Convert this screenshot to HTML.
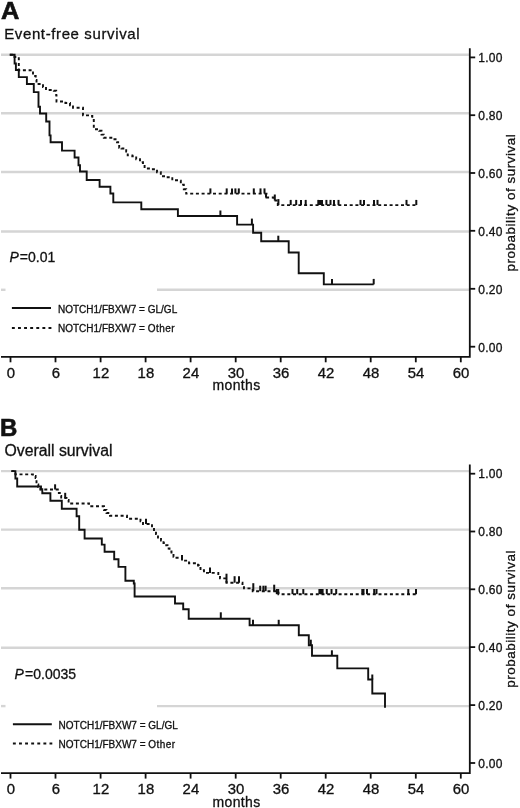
<!DOCTYPE html>
<html><head><meta charset="utf-8"><style>
html,body{margin:0;padding:0;background:#fff;}
body{width:520px;height:808px;overflow:hidden;}
svg{display:block;will-change:transform;}
text{font-family:"Liberation Sans",sans-serif;fill:#111;stroke:#111;stroke-width:0.3px;}
</style></head><body>
<svg width="520" height="808" viewBox="0 0 520 808">
<rect width="520" height="808" fill="#fff"/>
<g stroke="#d5d5d5" stroke-width="2.4">
<line x1="1" y1="54.8" x2="469" y2="54.8"/>
<line x1="1" y1="113.3" x2="469" y2="113.3"/>
<line x1="1" y1="172.0" x2="469" y2="172.0"/>
<line x1="1" y1="231.5" x2="469" y2="231.5"/>
<line x1="1" y1="289.8" x2="5.5" y2="289.8"/>
<line x1="157" y1="289.8" x2="469" y2="289.8"/>
</g>
<g stroke="#111" stroke-width="1.8" fill="none">
<path d="M1 356.8 H469.8 V48.2"/>
<line x1="469.8" y1="57.4" x2="475.2" y2="57.4"/>
<line x1="469.8" y1="115.2" x2="475.2" y2="115.2"/>
<line x1="469.8" y1="173.0" x2="475.2" y2="173.0"/>
<line x1="469.8" y1="230.8" x2="475.2" y2="230.8"/>
<line x1="469.8" y1="288.8" x2="475.2" y2="288.8"/>
<line x1="469.8" y1="346.7" x2="475.2" y2="346.7"/>
<line x1="10.5" y1="356.8" x2="10.5" y2="362.3"/>
<line x1="55.5" y1="356.8" x2="55.5" y2="362.3"/>
<line x1="100.6" y1="356.8" x2="100.6" y2="362.3"/>
<line x1="145.6" y1="356.8" x2="145.6" y2="362.3"/>
<line x1="190.6" y1="356.8" x2="190.6" y2="362.3"/>
<line x1="235.7" y1="356.8" x2="235.7" y2="362.3"/>
<line x1="280.7" y1="356.8" x2="280.7" y2="362.3"/>
<line x1="325.7" y1="356.8" x2="325.7" y2="362.3"/>
<line x1="370.7" y1="356.8" x2="370.7" y2="362.3"/>
<line x1="415.8" y1="356.8" x2="415.8" y2="362.3"/>
<line x1="460.8" y1="356.8" x2="460.8" y2="362.3"/>
</g>
<g font-size="12" letter-spacing="0.3">
<text x="478.2" y="61.9">1.00</text>
<text x="478.2" y="119.8">0.80</text>
<text x="478.2" y="177.8">0.60</text>
<text x="478.2" y="235.8">0.40</text>
<text x="478.2" y="293.7">0.20</text>
<text x="478.2" y="351.6">0.00</text>
</g>
<g font-size="13.8" text-anchor="middle">
<text transform="translate(10.8,377.8) scale(1.08,1)">0</text>
<text transform="translate(55.8,377.8) scale(1.08,1)">6</text>
<text transform="translate(100.9,377.8) scale(1.08,1)">12</text>
<text transform="translate(145.9,377.8) scale(1.08,1)">18</text>
<text transform="translate(190.9,377.8) scale(1.08,1)">24</text>
<text transform="translate(236.0,377.8) scale(1.08,1)">30</text>
<text transform="translate(281.0,377.8) scale(1.08,1)">36</text>
<text transform="translate(326.0,377.8) scale(1.08,1)">42</text>
<text transform="translate(371.0,377.8) scale(1.08,1)">48</text>
<text transform="translate(416.1,377.8) scale(1.08,1)">54</text>
<text transform="translate(461.1,377.8) scale(1.08,1)">60</text>
</g>
<text x="236.6" y="390.2" font-size="14" text-anchor="middle" letter-spacing="0.35">months</text>
<text transform="translate(515.2,202.6) rotate(-90)" font-size="13.4" letter-spacing="0.56" text-anchor="middle">probability of survival</text>
<g stroke="#111" stroke-width="2" fill="none">
<line x1="11.9" y1="307.9" x2="51.0" y2="307.9"/>
<line x1="11.9" y1="328.0" x2="51.5" y2="328.0" stroke-dasharray="2.9 3.2"/>
</g>
<g font-size="10">
<text x="58.0" y="312.6">NOTCH1/FBXW7 = GL/GL</text>
<text x="58.0" y="332.4">NOTCH1/FBXW7 = <tspan letter-spacing="0.45">Other</tspan></text>
</g>
<g stroke="#d5d5d5" stroke-width="2.4">
<line x1="1" y1="471.1" x2="469" y2="471.1"/>
<line x1="1" y1="529.6" x2="469" y2="529.6"/>
<line x1="1" y1="588.3" x2="469" y2="588.3"/>
<line x1="1" y1="647.8" x2="469" y2="647.8"/>
<line x1="1" y1="706.1" x2="5.5" y2="706.1"/>
<line x1="157" y1="706.1" x2="469" y2="706.1"/>
</g>
<g stroke="#111" stroke-width="1.8" fill="none">
<path d="M1 773.1 H469.8 V464.5"/>
<line x1="469.8" y1="473.7" x2="475.2" y2="473.7"/>
<line x1="469.8" y1="531.5" x2="475.2" y2="531.5"/>
<line x1="469.8" y1="589.3" x2="475.2" y2="589.3"/>
<line x1="469.8" y1="647.1" x2="475.2" y2="647.1"/>
<line x1="469.8" y1="705.1" x2="475.2" y2="705.1"/>
<line x1="469.8" y1="763.0" x2="475.2" y2="763.0"/>
<line x1="10.5" y1="773.1" x2="10.5" y2="778.6"/>
<line x1="55.5" y1="773.1" x2="55.5" y2="778.6"/>
<line x1="100.6" y1="773.1" x2="100.6" y2="778.6"/>
<line x1="145.6" y1="773.1" x2="145.6" y2="778.6"/>
<line x1="190.6" y1="773.1" x2="190.6" y2="778.6"/>
<line x1="235.7" y1="773.1" x2="235.7" y2="778.6"/>
<line x1="280.7" y1="773.1" x2="280.7" y2="778.6"/>
<line x1="325.7" y1="773.1" x2="325.7" y2="778.6"/>
<line x1="370.7" y1="773.1" x2="370.7" y2="778.6"/>
<line x1="415.8" y1="773.1" x2="415.8" y2="778.6"/>
<line x1="460.8" y1="773.1" x2="460.8" y2="778.6"/>
</g>
<g font-size="12" letter-spacing="0.3">
<text x="478.2" y="478.2">1.00</text>
<text x="478.2" y="536.1">0.80</text>
<text x="478.2" y="594.1">0.60</text>
<text x="478.2" y="652.1">0.40</text>
<text x="478.2" y="710.0">0.20</text>
<text x="478.2" y="768.0">0.00</text>
</g>
<g font-size="13.8" text-anchor="middle">
<text transform="translate(10.8,794.1) scale(1.08,1)">0</text>
<text transform="translate(55.8,794.1) scale(1.08,1)">6</text>
<text transform="translate(100.9,794.1) scale(1.08,1)">12</text>
<text transform="translate(145.9,794.1) scale(1.08,1)">18</text>
<text transform="translate(190.9,794.1) scale(1.08,1)">24</text>
<text transform="translate(236.0,794.1) scale(1.08,1)">30</text>
<text transform="translate(281.0,794.1) scale(1.08,1)">36</text>
<text transform="translate(326.0,794.1) scale(1.08,1)">42</text>
<text transform="translate(371.0,794.1) scale(1.08,1)">48</text>
<text transform="translate(416.1,794.1) scale(1.08,1)">54</text>
<text transform="translate(461.1,794.1) scale(1.08,1)">60</text>
</g>
<text x="236.6" y="806.5" font-size="14" text-anchor="middle" letter-spacing="0.35">months</text>
<text transform="translate(515.2,618.9) rotate(-90)" font-size="13.4" letter-spacing="0.56" text-anchor="middle">probability of survival</text>
<g stroke="#111" stroke-width="2" fill="none">
<line x1="12.9" y1="724.3" x2="51.8" y2="724.3"/>
<line x1="12.9" y1="743.6" x2="52.3" y2="743.6" stroke-dasharray="2.9 3.2"/>
</g>
<g font-size="10">
<text x="58.6" y="728.7">NOTCH1/FBXW7 = GL/GL</text>
<text x="58.6" y="747.9">NOTCH1/FBXW7 = <tspan letter-spacing="0.45">Other</tspan></text>
</g>
<text transform="translate(0.9,18.8) scale(1.06,1)" font-size="24" font-weight="bold" style="stroke-width:0.6px">A</text>
<text x="4.2" y="39.3" font-size="15" letter-spacing="0.62">Event-free survival</text>
<text x="0" y="436" font-size="24" font-weight="bold" style="stroke-width:0.6px">B</text>
<text x="4.5" y="456.3" font-size="15.8">Overall survival</text>
<text x="9.6" y="262.3" font-size="14"><tspan font-style="italic">P</tspan><tspan dx="0.9">=0.01</tspan></text>
<text x="14.5" y="678.9" font-size="14"><tspan font-style="italic">P</tspan><tspan dx="1.2">=0.0035</tspan></text>
<g stroke="#111" stroke-width="1.9" fill="none" stroke-linejoin="miter" stroke-linecap="butt">
<path d="M9.8 54.8 H14.6 V63.5 H15.9 V70.0 H18.8 V77.1 H26.9 V84 H33.8 V92.1 H38.5 V106.7 H40 V113.5 H46.2 V121.5 H49.5 V135.4 H50.6 V142.2 H62 V150.6 H74.6 V157.5 H78.5 V165.2 H80 V171.5 H86.7 V180 H99.6 V186.8 H110.4 V193.5 H113.3 V202.4 H141.3 V209.2 H177.9 V216 H237.1 V224.6 H253.1 V232.8 H261.2 V241.2 H288.7 V252.5 H298.7 V273.3 H323.8 V284.4 H373.7"/>
<path d="M9.8 54.8 H14.5 V57.0 H18.8 V70.2 H31.0 V70.2 H33.0 V76.0 H35.7 V80.0 H36.5 V84.0 H41.0 V84.0 H43.0 V87.0 H46.0 V90.0 H53.8 V90.8 H56.2 V95.4 H56.5 V101.5 H65.4 V103.0 H70.0 V105.4 H73.0 V107.7 H81.5 V107.7 H83.0 V115.4 H89.2 V116.0 H92.3 V120.0 H93.8 V129.2 H99.2 V130.8 H101.5 V134.6 H103.8 V137.7 H113.0 V139.2 H117.0 V142.3 H119.2 V147.7 H121.5 V148.5 H126.2 V151.5 H127.7 V155.4 H132.3 V156.2 H136.2 V159.2 H140.0 V162.3 H143.0 V164.6 H144.6 V168.5 H150.8 V169.2 H157.0 V172.3 H160.8 V176.2 H166.0 V177.2 H172.3 V180.3 H178.5 V180.8 H180.8 V184.6 H183.8 V189.2 H186.2 V193.6 H266.5 V197.5 H273.5 V200.5 H277.8 V205.1 H417.0 V205.1" stroke-dasharray="3 2.7"/>
<path d="M11.4 471.1 H15.4 V478.5 H17.2 V486.5 H41 V489.2 H42.3 V493.3 H50.4 V500.7 H61.8 V508.7 H76.6 V516.2 H79.2 V529.7 H84.6 V538.5 H101.8 V544.6 H104.6 V551.8 H114.2 V559.2 H118.5 V566.9 H125.4 V580.8 H133.8 V583.5 H134.6 V596.5 H175 V603.5 H183.2 V609.2 H188.7 V618.8 H249.6 V625.3 H298.8 V635.2 H308.8 V645.2 H312 V655.8 H337.3 V668.4 H368.2 V679.5 H372.3 V693.5 H385 V707.7"/>
<path d="M11.4 471.1 H15.4 V474.4 H30.2 V474.4 H32.9 V476.0 H35.6 V478.0 H36.5 V484.5 H38.3 V487.0 H40.3 V489.5 H56.0 V489.5 H57.8 V493.0 H59.8 V496.0 H61.2 V497.5 H64.0 V498.0 H66.5 V500.0 H68.6 V503.5 H87.7 V503.5 H89.0 V505.4 H90.0 V506.2 H102.3 V506.2 H104.0 V510.0 H106.5 V513.0 H110.0 V515.8 H126.0 V515.8 H127.0 V518.7 H137.7 V518.7 H140.5 V521.2 H143.0 V524.0 H152.0 V527.5 H154.0 V531.0 H156.0 V534.0 H158.0 V537.5 H161.0 V540.5 H163.5 V543.0 H165.0 V545.2 H167.5 V548.5 H169.5 V551.5 H171.5 V554.0 H173.5 V556.8 H176.5 V557.7 H182.0 V560.6 H189.0 V563.2 H198.0 V565.5 H199.0 V568.0 H200.5 V570.3 H204.0 V572.9 H218.3 V575.5 H220.0 V578.4 H226.5 V582.7 H242.5 V585.5 H244.0 V588.4 H252.7 V591.2 H276.5 V592.8 H278.5 V594.2 H416.0 V594.2" stroke-dasharray="3 2.7"/>
</g>
<g stroke="#111" stroke-width="2">
<line x1="220.4" y1="216.0" x2="220.4" y2="210.5"/>
<line x1="251.9" y1="224.6" x2="251.9" y2="218.6"/>
<line x1="278.3" y1="241.2" x2="278.3" y2="235.7"/>
<line x1="332.0" y1="284.4" x2="332.0" y2="278.9"/>
<line x1="373.7" y1="284.4" x2="373.7" y2="278.9"/>
<line x1="210.4" y1="193.6" x2="210.4" y2="188.4"/>
<line x1="226.7" y1="193.6" x2="226.7" y2="188.4"/>
<line x1="232.0" y1="193.6" x2="232.0" y2="188.4"/>
<line x1="235.4" y1="193.6" x2="235.4" y2="188.4"/>
<line x1="238.8" y1="193.6" x2="238.8" y2="188.4"/>
<line x1="253.8" y1="193.6" x2="253.8" y2="188.4"/>
<line x1="260.5" y1="193.6" x2="260.5" y2="188.4"/>
<line x1="264.5" y1="193.6" x2="264.5" y2="188.4"/>
<line x1="290.7" y1="205.1" x2="290.7" y2="199.9"/>
<line x1="296.2" y1="205.1" x2="296.2" y2="199.9"/>
<line x1="301.0" y1="205.1" x2="301.0" y2="199.9"/>
<line x1="305.7" y1="205.1" x2="305.7" y2="199.9"/>
<line x1="318.3" y1="205.1" x2="318.3" y2="199.9"/>
<line x1="320.0" y1="205.1" x2="320.0" y2="199.9"/>
<line x1="322.0" y1="205.1" x2="322.0" y2="199.9"/>
<line x1="326.4" y1="205.1" x2="326.4" y2="199.9"/>
<line x1="330.5" y1="205.1" x2="330.5" y2="199.9"/>
<line x1="334.0" y1="205.1" x2="334.0" y2="199.9"/>
<line x1="338.5" y1="205.1" x2="338.5" y2="199.9"/>
<line x1="360.5" y1="205.1" x2="360.5" y2="199.9"/>
<line x1="364.0" y1="205.1" x2="364.0" y2="199.9"/>
<line x1="374.0" y1="205.1" x2="374.0" y2="199.9"/>
<line x1="377.5" y1="205.1" x2="377.5" y2="199.9"/>
<line x1="406.5" y1="205.1" x2="406.5" y2="199.9"/>
<line x1="416.3" y1="205.1" x2="416.3" y2="199.9"/>
<line x1="266.0" y1="197.5" x2="266.0" y2="193.0"/>
<line x1="274.8" y1="200.5" x2="274.8" y2="194.5"/>
<line x1="278.4" y1="205.1" x2="278.4" y2="199.1"/>
<line x1="220.8" y1="618.8" x2="220.8" y2="612.3"/>
<line x1="253.0" y1="625.3" x2="253.0" y2="619.8"/>
<line x1="278.7" y1="625.3" x2="278.7" y2="619.8"/>
<line x1="310.8" y1="645.2" x2="310.8" y2="639.7"/>
<line x1="331.9" y1="655.8" x2="331.9" y2="650.3"/>
<line x1="372.3" y1="679.5" x2="372.3" y2="674.5"/>
<line x1="55.1" y1="489.5" x2="55.1" y2="484.3"/>
<line x1="65.2" y1="498.0" x2="65.2" y2="492.8"/>
<line x1="146.0" y1="524.0" x2="146.0" y2="518.8"/>
<line x1="182.0" y1="560.6" x2="182.0" y2="555.1"/>
<line x1="210.0" y1="572.9" x2="210.0" y2="567.4"/>
<line x1="226.5" y1="582.7" x2="226.5" y2="573.7"/>
<line x1="234.6" y1="582.7" x2="234.6" y2="576.2"/>
<line x1="239.0" y1="582.7" x2="239.0" y2="576.2"/>
<line x1="253.3" y1="591.2" x2="253.3" y2="583.2"/>
<line x1="260.2" y1="591.2" x2="260.2" y2="585.7"/>
<line x1="263.4" y1="591.2" x2="263.4" y2="585.7"/>
<line x1="265.6" y1="591.2" x2="265.6" y2="585.7"/>
<line x1="274.2" y1="591.2" x2="274.2" y2="584.7"/>
<line x1="276.8" y1="594.2" x2="276.8" y2="589.0"/>
<line x1="278.2" y1="594.2" x2="278.2" y2="589.0"/>
<line x1="292.5" y1="594.2" x2="292.5" y2="589.0"/>
<line x1="297.2" y1="594.2" x2="297.2" y2="589.0"/>
<line x1="303.3" y1="594.2" x2="303.3" y2="589.0"/>
<line x1="319.4" y1="594.2" x2="319.4" y2="589.0"/>
<line x1="321.0" y1="594.2" x2="321.0" y2="589.0"/>
<line x1="322.6" y1="594.2" x2="322.6" y2="589.0"/>
<line x1="326.8" y1="594.2" x2="326.8" y2="589.0"/>
<line x1="331.5" y1="594.2" x2="331.5" y2="589.0"/>
<line x1="336.2" y1="594.2" x2="336.2" y2="589.0"/>
<line x1="362.3" y1="594.2" x2="362.3" y2="589.0"/>
<line x1="363.5" y1="594.2" x2="363.5" y2="589.0"/>
<line x1="367.0" y1="594.2" x2="367.0" y2="589.0"/>
<line x1="374.2" y1="594.2" x2="374.2" y2="589.0"/>
<line x1="376.5" y1="594.2" x2="376.5" y2="589.0"/>
<line x1="408.3" y1="594.2" x2="408.3" y2="589.0"/>
<line x1="416.0" y1="594.2" x2="416.0" y2="589.0"/>
</g>
</svg>
</body></html>
